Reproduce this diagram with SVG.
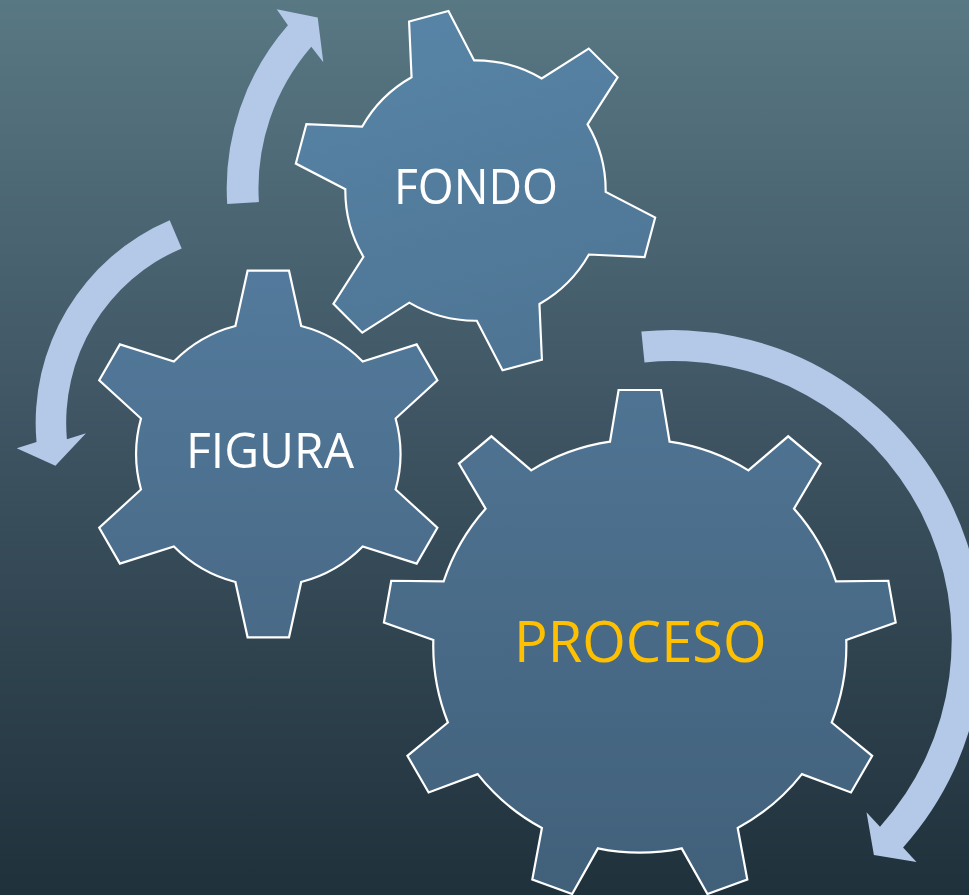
<svg xmlns="http://www.w3.org/2000/svg" width="969" height="895" viewBox="0 0 969 895">
  <defs>
    <linearGradient id="bg" x1="0" y1="0" x2="0" y2="895" gradientUnits="userSpaceOnUse">
      <stop offset="0" stop-color="#587883"/>
      <stop offset="0.45" stop-color="#405664"/>
      <stop offset="1" stop-color="#1f313b"/>
    </linearGradient>
    <linearGradient id="fillFondo" x1="0" y1="0" x2="0" y2="1">
      <stop offset="0" stop-color="#5784a6"/>
      <stop offset="1" stop-color="#4e7493"/>
    </linearGradient>
    <linearGradient id="fillFigura" x1="0" y1="0" x2="0" y2="1">
      <stop offset="0" stop-color="#537a9c"/>
      <stop offset="1" stop-color="#496a87"/>
    </linearGradient>
    <linearGradient id="fillProceso" x1="0" y1="0" x2="0" y2="1">
      <stop offset="0" stop-color="#4f7493"/>
      <stop offset="1" stop-color="#41607a"/>
    </linearGradient>
    <path id="smallGear" d="M -32.9,-128 L -20.7,-183.3 L 20.7,-183.3 L 32.9,-128 A 132.16 132.16 0 0 1 94.40,-92.49 L 148.39,-109.58 L 169.09,-73.72 L 127.30,-35.51 A 132.16 132.16 0 0 1 127.30,35.51 L 169.09,73.72 L 148.39,109.58 L 94.40,92.49 A 132.16 132.16 0 0 1 32.9,128 L 20.7,183.3 L -20.7,183.3 L -32.9,128 A 132.16 132.16 0 0 1 -94.40,92.49 L -148.39,109.58 L -169.09,73.72 L -127.30,35.51 A 132.16 132.16 0 0 1 -127.30,-35.51 L -169.09,-73.72 L -148.39,-109.58 L -94.40,-92.49 A 132.16 132.16 0 0 1 -32.9,-128 Z"/>
  </defs>
  <style>
    .gear { stroke: #ffffff; stroke-width: 2.2; stroke-linejoin: miter; }
    .arrow { fill: #b4c8e7; stroke: none; }
    .lbl { font-family: "Open Sans", "Liberation Sans", sans-serif; text-anchor: middle; }
    .white { fill: #ffffff; font-size: 50px; }
    .gold { fill: #ffc000; font-size: 56px; }
  </style>
  <rect x="0" y="0" width="969" height="895" fill="url(#bg)"/>

  <g id="connectors">
    <path class="arrow" d="M 227.2,204.1 A 248.3 248.3 0 0 1 287.9,25.2 L 276.7,9.3 L 317.7,17.4 L 323.3,62.3 L 311.3,46.8 A 216.5 216.5 0 0 0 258.9,202.1 Z"/>
    <path class="arrow" d="M 169.7,220.3 A 220 220 0 0 0 36.5,442.0 L 16.7,448.3 L 55.4,465.7 L 86,433.3 L 66.9,439.3 A 189.5 189.5 0 0 1 181.7,248.4 Z"/>
    <path class="arrow" d="M 641.36,331.6 A 310 310 0 0 1 903.1,847.4 L 916.5,862.0 L 873.9,855.0 L 866.5,812.3 L 880.0,826.7 A 279 279 0 0 0 644.5,362.4 Z"/>
  </g>

  <g id="gear-proceso">
    <path class="gear" fill="url(#fillProceso)" transform="translate(639.8,646.1)" d="M -29.8,-204.4 L -21.2,-256.1 L 21.2,-256.1 L 29.8,-204.4 A 206.56 206.56 0 0 1 108.56,-175.73 L 148.38,-209.80 L 180.86,-182.54 L 154.22,-137.41 A 206.56 206.56 0 0 1 196.12,-64.83 L 248.53,-65.34 L 255.89,-23.58 L 206.46,-6.13 A 206.56 206.56 0 0 1 191.91,76.39 L 232.38,109.69 L 211.18,146.41 L 162.11,128.01 A 206.56 206.56 0 0 1 97.90,181.88 L 107.51,233.41 L 67.67,247.91 L 41.90,202.26 A 206.56 206.56 0 0 1 -41.90,202.26 L -67.67,247.91 L -107.51,233.41 L -97.90,181.88 A 206.56 206.56 0 0 1 -162.11,128.01 L -211.18,146.41 L -232.38,109.69 L -191.91,76.39 A 206.56 206.56 0 0 1 -206.46,-6.13 L -255.89,-23.58 L -248.53,-65.34 L -196.12,-64.83 A 206.56 206.56 0 0 1 -154.22,-137.41 L -180.86,-182.54 L -148.38,-209.80 L -108.56,-175.73 A 206.56 206.56 0 0 1 -29.8,-204.4 Z"/>
    <text class="lbl gold" x="640.3" y="661.7">PROCESO</text>
  </g>

  <g id="gear-figura">
    <use href="#smallGear" class="gear" fill="url(#fillFigura)" transform="translate(268.3,454)"/>
    <text class="lbl white" x="270" y="468.3" textLength="168" lengthAdjust="spacingAndGlyphs">FIGURA</text>
  </g>

  <g id="gear-fondo">
    <use href="#smallGear" class="gear" fill="url(#fillFondo)" transform="translate(475.5,190.6) rotate(-15) scale(0.985)"/>
    <text class="lbl white" x="476" y="204" textLength="164" lengthAdjust="spacingAndGlyphs">FONDO</text>
  </g>
</svg>
